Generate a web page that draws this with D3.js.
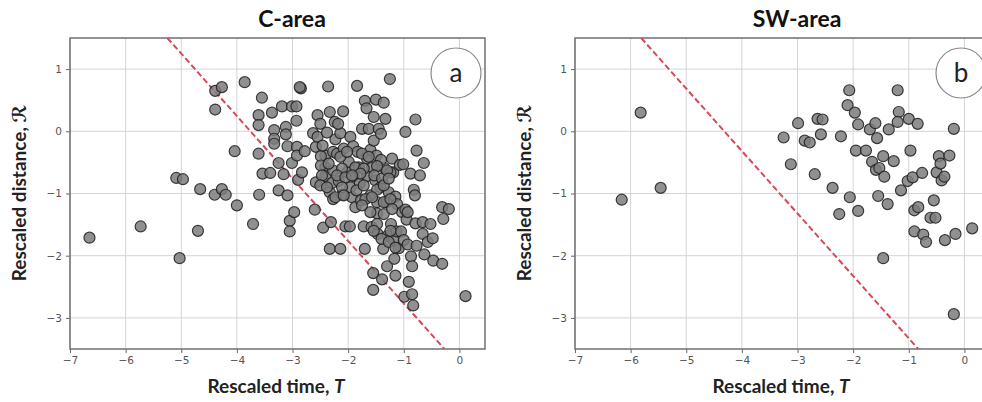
<!DOCTYPE html>
<html>
<head>
<meta charset="utf-8">
<script src="https://cdn.jsdelivr.net/npm/d3@7"></script>
<style>
  body { margin: 0; background: #fff; }
  svg { display: block; }
</style>
</head>
<body>
<svg id="chart" width="982" height="402"></svg>
<script>
// rescaled time T, rescaled distance R
const cAreaPoints = [
  [-6.65,-1.71],[-5.73,-1.53],[-5.09,-0.75],[-4.97,-0.77],[-5.03,-2.04],[-4.70,-1.60],
  [-4.66,-0.93],[-4.40,-1.02],[-4.27,-0.93],[-4.20,-1.02],[-4.39,0.65],[-4.27,0.71],
  [-4.39,0.35],[-3.86,0.79],[-4.04,-0.32],[-4.00,-1.19],[-3.71,-1.49],[-3.55,0.54],
  [-3.61,0.26],[-3.61,0.10],[-3.61,-0.36],[-3.60,-1.02],[-3.54,-0.68],[-3.40,-0.67],
  [-3.37,0.30],[-3.33,0.02],[-3.33,-0.12],[-3.33,-0.20],[-3.25,-0.95],[-3.25,-0.51],
  [-3.19,0.40],[-3.16,-0.69],[-3.12,0.07],[-3.12,-0.05],[-3.09,-1.03],[-3.09,-0.24],
  [-3.01,0.40],[-2.93,0.40],[-3.01,-0.51],[-3.05,-1.44],[-3.05,-1.61],[-2.97,-1.30],
  [-2.93,0.17],[-2.92,-0.25],[-2.92,-0.39],[-2.90,-0.78],[-2.85,0.69],[-2.87,0.71],
  [-2.83,-0.66],[-2.78,-0.32],[-2.58,-0.25],[-2.63,-0.03],[-2.60,-1.26],[-2.58,-0.82],
  [-2.55,0.26],[-2.55,-0.09],[-2.50,0.12],[-2.45,-1.55],[-2.41,-0.58],[-2.41,-0.72],
  [-2.41,-0.39],[-2.36,0.72],[-2.33,0.31],[-2.33,-1.89],[-2.31,-1.46],[-2.33,-0.98],
  [-2.29,-0.83],[-2.27,-1.09],[-2.27,-0.33],[-2.27,-0.63],[-2.24,0.15],[-2.23,-0.13],
  [-2.20,-0.36],[-2.17,-0.80],[-2.14,-1.89],[-2.11,-1.02],[-2.09,0.32],[-2.14,-0.03],
  [-2.08,-0.28],[-2.05,-1.53],[-2.02,-0.66],[-1.99,-0.49],[-1.97,-1.53],[-1.96,-0.90],
  [-1.96,-0.09],[-1.93,-1.06],[-1.91,-0.24],[-1.90,-0.72],[-1.87,-1.22],[-1.84,0.73],
  [-1.83,-0.33],[-1.81,-0.58],[-1.79,-0.84],[-1.77,-1.11],[-1.75,0.04],[-1.72,-1.53],
  [-1.70,-1.89],[-1.70,0.49],[-1.67,0.37],[-1.66,-0.44],[-1.66,-0.72],[-1.63,0.04],
  [-1.60,-1.03],[-1.60,-0.30],[-1.58,-1.54],[-1.57,-0.58],[-1.55,-2.28],[-1.55,-2.55],
  [-1.54,0.23],[-1.54,-0.15],[-1.51,-0.79],[-1.50,0.51],[-1.49,-0.39],[-1.48,-1.14],
  [-1.48,-1.32],[-1.47,-1.65],[-1.45,0.04],[-1.42,-0.90],[-1.41,-0.04],[-1.39,-2.38],
  [-1.37,-1.89],[-1.36,0.46],[-1.35,-0.59],[-1.33,0.20],[-1.31,-1.14],[-1.30,-2.17],
  [-1.29,-1.68],[-1.27,-0.98],[-1.25,0.84],[-1.23,-1.49],[-1.21,-0.44],[-1.19,-0.66],
  [-1.18,-1.76],[-1.17,-2.05],[-1.15,-1.05],[-1.15,-2.32],[-1.13,-1.61],[-1.12,-1.17],
  [-1.09,-1.88],[-1.07,-0.54],[-1.05,-1.61],[-1.03,-1.30],[-1.01,-0.53],[-1.00,-1.75],
  [-0.99,-2.66],[-0.97,-1.26],[-0.97,-0.01],[-0.95,-1.42],[-0.93,-1.82],[-0.93,-1.30],
  [-0.91,-2.42],[-0.88,-0.68],[-0.87,-2.01],[-0.85,-2.62],[-0.85,-2.17],[-0.83,-2.80],
  [-0.82,-0.94],[-0.80,-1.03],[-0.79,-1.48],[-0.77,-1.84],[-0.77,-0.31],[-0.79,0.19],
  [-0.71,-0.71],[-0.66,-1.46],[-0.66,-1.65],[-0.64,-0.51],[-0.63,-1.98],[-0.57,-1.78],
  [-0.52,-1.49],[-0.48,-1.72],[-0.47,-2.08],[-0.31,-2.13],[-0.31,-1.22],[-0.29,-1.41],
  [-0.19,-1.25],[0.11,-2.65],
  [-2.49,-0.40],[-2.14,-0.41],[-2.02,-0.33],[-1.75,-0.36],[-1.63,-0.41],[-1.41,-0.46],
  [-2.49,-0.55],[-2.35,-0.52],[-2.11,-0.60],[-1.87,-0.58],[-1.72,-0.60],[-1.48,-0.56],
  [-1.24,-0.66],[-2.47,-0.71],[-2.20,-0.71],[-2.05,-0.74],[-1.78,-0.68],[-1.53,-0.71],
  [-1.39,-0.76],[-2.50,-0.87],[-2.38,-0.90],[-2.11,-0.90],[-1.85,-0.95],[-1.72,-0.87],
  [-1.48,-0.94],[-1.36,-0.87],[-2.23,-1.06],[-2.08,-1.03],[-1.69,-1.09],[-1.57,-1.06],
  [-1.36,-1.14],[-1.24,-1.09],[-1.75,-1.19],[-1.60,-1.30],[-1.36,-1.33],[-1.21,-1.25],
  [-1.30,-0.63],[-1.27,-0.76],[-1.93,-0.71],[-1.48,-1.49],[-1.54,-1.60],[-1.24,-1.60],
  [-1.40,-1.73],[-1.27,-1.78],[-1.15,-1.87],[-2.18,0.12],[-2.38,-0.02],[-2.46,-0.23]
]

const swAreaPoints = [
  [-6.16,-1.10],[-5.82,0.30],[-5.46,-0.91],[-3.25,-0.10],[-3.12,-0.53],[-2.99,0.13],
  [-2.87,-0.15],[-2.78,-0.18],[-2.69,-0.69],[-2.64,0.20],[-2.55,0.19],[-2.58,-0.05],
  [-2.37,-0.91],[-2.25,-1.33],[-2.22,-0.08],[-2.10,0.42],[-2.07,0.66],[-2.06,-1.06],
  [-1.97,0.30],[-1.95,-0.31],[-1.91,0.11],[-1.91,-1.28],[-1.77,-0.31],[-1.70,0.03],
  [-1.66,-0.49],[-1.60,0.13],[-1.57,-0.11],[-1.59,-0.62],[-1.53,-0.59],[-1.55,-1.04],
  [-1.46,-0.40],[-1.44,-0.73],[-1.46,-2.04],[-1.38,-1.17],[-1.36,0.03],[-1.27,-0.48],
  [-1.20,0.66],[-1.18,0.31],[-1.20,0.15],[-1.14,-0.95],[-1.00,0.20],[-1.02,-0.80],
  [-0.97,-0.31],[-0.93,-0.74],[-0.90,-1.27],[-0.90,-1.61],[-0.84,0.12],[-0.83,-1.22],
  [-0.76,-0.67],[-0.74,-1.66],[-0.69,-1.78],[-0.61,-1.39],[-0.55,-1.11],[-0.52,-1.39],
  [-0.50,-0.66],[-0.46,-0.40],[-0.43,-0.52],[-0.41,-0.79],[-0.36,-0.73],[-0.35,-1.75],
  [-0.27,-0.39],[-0.19,0.04],[-0.19,-2.94],[-0.16,-1.65],[0.14,-1.56]
]

// dashed boundary lines, endpoints in (T, R)
const cAreaLine = [[-5.25, 1.5], [-0.27, -3.5]]
const swAreaLine = [[-5.81, 1.5], [-0.83, -3.5]]

const xTicks = [-7, -6, -5, -4, -3, -2, -1, 0]
const yTicks = [-3, -2, -1, 0, 1]
const xDomain = [-7, 0.46]
const yDomain = [-3.5, 1.5]

const panels = [
  {title: 'C-area', badge: 'a', left: 70, points: cAreaPoints, line: cAreaLine},
  {title: 'SW-area', badge: 'b', left: 575, points: swAreaPoints, line: swAreaLine}
]

const svg = d3.select('#chart')
const plotTop = 38, plotW = 415, plotH = 311
const tickFont = '"DejaVu Sans", sans-serif'
const labelFont = 'Lato, "Open Sans", sans-serif'
const fmt = d3.format('d')

function drawPanel(p) {
  const x = d3.scaleLinear().domain(xDomain).range([p.left, p.left + plotW])
  const y = d3.scaleLinear().domain(yDomain).range([plotTop + plotH, plotTop])
  const g = svg.append('g')

  // grid
  g.append('g').selectAll('line').data(xTicks).join('line')
    .attr('x1', d => x(d)).attr('x2', d => x(d))
    .attr('y1', plotTop).attr('y2', plotTop + plotH)
    .attr('stroke', '#d4d4d4').attr('stroke-width', 1)
  g.append('g').selectAll('line').data(yTicks).join('line')
    .attr('x1', p.left).attr('x2', p.left + plotW)
    .attr('y1', d => y(d)).attr('y2', d => y(d))
    .attr('stroke', '#d4d4d4').attr('stroke-width', 1)

  // axes
  const xAxis = g.append('g')
    .attr('transform', `translate(0,${plotTop + plotH})`)
    .call(d3.axisBottom(x).tickValues(xTicks).tickFormat(fmt).tickSize(4).tickPadding(4))
  const yAxis = g.append('g')
    .attr('transform', `translate(${p.left},0)`)
    .call(d3.axisLeft(y).tickValues(yTicks).tickFormat(fmt).tickSize(4).tickPadding(4))
  for (const ax of [xAxis, yAxis]) {
    ax.select('.domain').remove()
    ax.selectAll('line').attr('stroke', '#666')
    ax.selectAll('text').attr('fill', '#555')
      .style('font-family', tickFont).style('font-size', '10.5px')
  }

  // frame
  g.append('rect')
    .attr('x', p.left).attr('y', plotTop)
    .attr('width', plotW).attr('height', plotH)
    .attr('fill', 'none').attr('stroke', '#707070').attr('stroke-width', 1.5)

  // dashed line
  g.append('line')
    .attr('x1', x(p.line[0][0])).attr('y1', y(p.line[0][1]))
    .attr('x2', x(p.line[1][0])).attr('y2', y(p.line[1][1]))
    .attr('stroke', '#d8485a').attr('stroke-width', 2)
    .attr('stroke-dasharray', '6,3')

  // points
  g.append('g').selectAll('circle').data(p.points).join('circle')
    .attr('cx', d => x(d[0])).attr('cy', d => y(d[1]))
    .attr('r', 5.5)
    .attr('fill', '#7d7d7d').attr('fill-opacity', 0.85)
    .attr('stroke', '#1e1e1e').attr('stroke-opacity', 0.85).attr('stroke-width', 1.2)

  // badge
  g.append('circle')
    .attr('cx', p.left + 386).attr('cy', 73).attr('r', 25)
    .attr('fill', '#fff').attr('stroke', '#8a8a8a').attr('stroke-width', 1.2)
  g.append('text')
    .attr('x', p.left + 386).attr('y', 82)
    .attr('text-anchor', 'middle')
    .style('font-family', labelFont).style('font-size', '26px').attr('fill', '#222')
    .text(p.badge)

  // titles
  g.append('text')
    .attr('x', p.left + 222).attr('y', 27)
    .attr('text-anchor', 'middle')
    .style('font-family', labelFont).style('font-weight', 'bold').style('font-size', '23px')
    .attr('fill', '#111')
    .text(p.title)

  const xl = g.append('text')
    .attr('x', p.left + 206).attr('y', 393)
    .attr('text-anchor', 'middle')
    .style('font-family', labelFont).style('font-weight', 'bold').style('font-size', '19px')
    .attr('fill', '#222')
  xl.append('tspan').text('Rescaled time, ')
  xl.append('tspan').style('font-style', 'italic').text('T')

  const yl = g.append('text')
    .attr('transform', `translate(${p.left - 44},${plotTop + 155}) rotate(-90)`)
    .attr('text-anchor', 'middle')
    .style('font-family', labelFont).style('font-weight', 'bold').style('font-size', '19px')
    .attr('fill', '#222')
  yl.append('tspan').text('Rescaled distance, ')
  yl.append('tspan').style('font-style', 'italic').style('font-family', '"DejaVu Sans", serif').text('\u211B')
}

panels.forEach(drawPanel)
</script>
</body>
</html>
